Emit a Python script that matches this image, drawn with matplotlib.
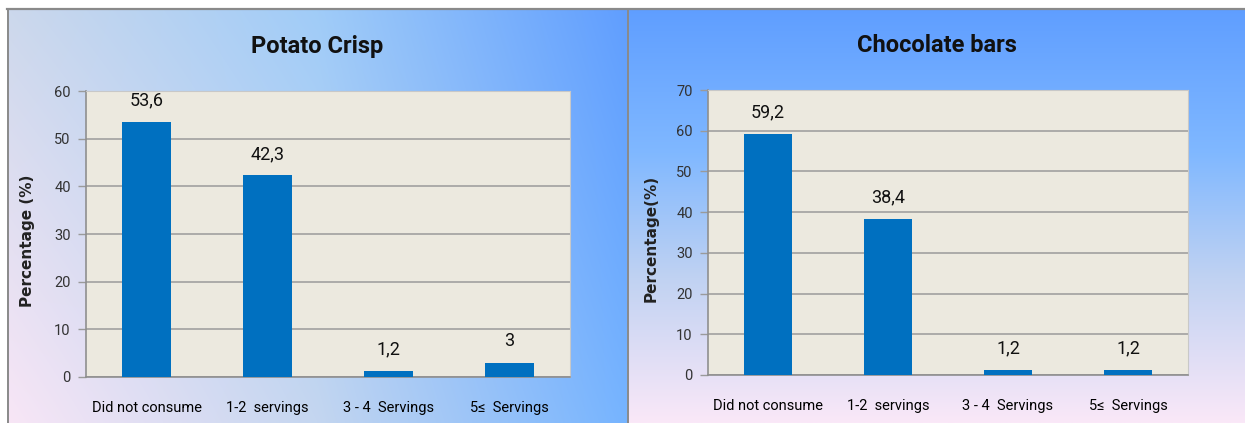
import numpy as np
import matplotlib
matplotlib.use("Agg")
import matplotlib.pyplot as plt
from matplotlib.lines import Line2D

# survey data: share of respondents per serving category
categories = ["Did not consume", "1-2  servings", "3 - 4  Servings", "5\u2264  Servings"]
crisp_values = [53.6, 42.3, 1.2, 3]
choc_values = [59.2, 38.4, 1.2, 1.2]
crisp_ticks = [0, 10, 20, 30, 40, 50, 60]
choc_ticks = [0, 10, 20, 30, 40, 50, 60, 70]

NARROW = ["Roboto", "DejaVu Sans"]
W, H = 1245, 423
DPI = 100

fig = plt.figure(figsize=(W / DPI, H / DPI), dpi=DPI)
fig.patch.set_facecolor("white")


def px(x0, y0, x1, y1):
    # pixel box (top-left origin) -> figure fraction rect
    return [x0 / W, 1 - y1 / H, (x1 - x0) / W, (y1 - y0) / H]


def grid_gradient(top, bottom, n=240):
    # top/bottom: lists of colours spread evenly from left to right
    u = np.linspace(0, 1, n)
    pos = np.linspace(0, 1, len(top))
    img = np.zeros((n, n, 3))
    for k in range(3):
        t = np.interp(u, pos, [c[k] / 255 for c in top])
        b = np.interp(u, pos, [c[k] / 255 for c in bottom])
        v = u[:, None]
        img[:, :, k] = t[None, :] * (1 - v) + b[None, :] * v
    return img


def vertical_gradient(stops, n=300):
    pos = [s[0] for s in stops]
    img = np.zeros((n, 2, 3))
    t = np.linspace(0, 1, n)
    for k in range(3):
        img[:, :, k] = np.interp(t, pos, [s[1][k] / 255 for s in stops])[:, None]
    return img


# panel backgrounds
bg1 = fig.add_axes(px(7, 9, 628, H), zorder=-2)
bg1.imshow(grid_gradient([(204, 216, 236), (160, 204, 248), (96, 158, 255)],
                         [(248, 230, 246), (196, 214, 240), (118, 180, 255)]),
           aspect="auto", interpolation="bilinear", extent=(0, 1, 0, 1))
bg1.axis("off")

bg2 = fig.add_axes(px(628, 9, W, H), zorder=-2)
bg2.imshow(vertical_gradient([(0, (95, 158, 255)), (0.35, (128, 184, 255)),
                              (0.65, (192, 210, 242)), (1, (250, 232, 248))]),
           aspect="auto", interpolation="bilinear", extent=(0, 1, 0, 1))
bg2.axis("off")

# frame lines
fig.add_artist(Line2D([7 / W, 1], [1 - 9 / H] * 2, color="#8a8a8a", lw=1.6))
fig.add_artist(Line2D([7.5 / W] * 2, [0, 1 - 9 / H], color="#8a8a8a", lw=1.4))
fig.add_artist(Line2D([628 / W] * 2, [0, 1 - 9 / H], color="#8a8a8a", lw=1.4))


def draw_panel(rect, values, ticks, title, ylabel, title_x, ylabel_x):
    ax = fig.add_axes(rect)
    ax.set_facecolor("#ece9df")
    x = np.arange(len(categories))
    bars = ax.bar(x, values, width=0.4, color="#0070c0", zorder=3)
    ax.set_xlim(-0.5, len(categories) - 0.5)
    ax.set_ylim(0, ticks[-1])
    ax.set_yticks(ticks)
    ax.yaxis.grid(True, color="#9a9a9a", lw=1.1, zorder=0)
    ax.set_axisbelow(True)
    ax.tick_params(axis="y", length=6, width=1, color="#9a9a9a", pad=5, labelsize=10.5,
                   labelcolor="#333333")
    ax.tick_params(axis="x", length=0, pad=17, labelsize=10.5)
    ax.set_xticks(x)
    ax.set_xticklabels(categories)
    for lab in ax.get_xticklabels() + ax.get_yticklabels():
        lab.set_family(NARROW)
    for side in ("left", "bottom"):
        ax.spines[side].set_color("#8f8f8f")
        ax.spines[side].set_linewidth(1.2)
    for side in ("top", "right"):
        ax.spines[side].set_color("#c8c8c8")
        ax.spines[side].set_linewidth(0.8)
    for b, v in zip(bars, values):
        ax.annotate(f"{v:g}".replace(".", ","), (b.get_x() + b.get_width() / 2, v),
                    xytext=(0, 9), textcoords="offset points", ha="center", va="bottom",
                    fontsize=13, family=NARROW, color="#111111")
    fig.text(title_x, 1 - 46 / H, title, ha="center", va="center", fontsize=17,
             fontweight="bold", family=NARROW, color="#111111")
    fig.text(ylabel_x, rect[1] + rect[3] / 2 - 0.015, ylabel, rotation=90, ha="center",
             va="center", fontsize=11, fontweight="bold", family="DejaVu Sans",
             color="#222222")
    return ax


draw_panel(px(86, 91, 570, 377), crisp_values, crisp_ticks, "Potato Crisp",
           "Percentage (%)", 317 / W, 28 / W)
draw_panel(px(708, 90, 1188, 375), choc_values, choc_ticks, "Chocolate bars",
           "Percentage(%)", 937 / W, 651 / W)

fig.savefig("out.png", dpi=DPI)
